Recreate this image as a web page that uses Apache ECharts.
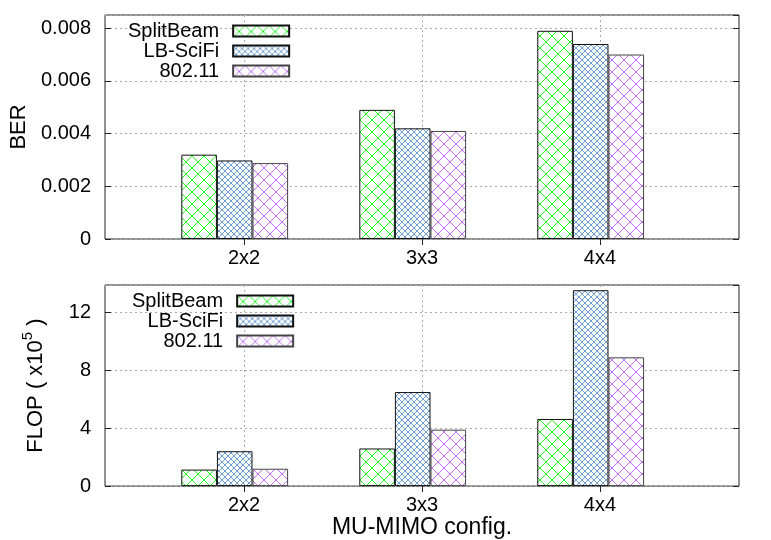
<!DOCTYPE html>
<html>
<head>
<meta charset="UTF-8">
<title>BER / FLOP vs MU-MIMO config</title>
<script src="https://cdn.jsdelivr.net/npm/echarts@6/dist/echarts.min.js"></script>
<style>
  html, body { margin: 0; padding: 0; background: #fff; }
  #chart { width: 771px; height: 540px; }
</style>
</head>
<body>
<div id="chart"></div>
<script>
// data
var configs = ['2x2', '3x3', '4x4'];
var seriesNames = ['SplitBeam', 'LB-SciFi', '802.11'];
var berSplitBeam = [0.0032, 0.0049, 0.0079];
var berLBSciFi = [0.00298, 0.0042, 0.0074];
var ber80211 = [0.00288, 0.0041, 0.0070];
var flopSplitBeam = [1.14, 2.6, 4.64];
var flopLBSciFi = [2.41, 6.5, 13.54];
var flop80211 = [1.2, 3.9, 8.9];

var font = 'Liberation Sans, Arial, sans-serif';

// crosshatch fill like gnuplot patterns
function hatch(color, size) {
  var c = document.createElement('canvas');
  c.width = size; c.height = size;
  var ctx = c.getContext('2d');
  ctx.fillStyle = '#fff';
  ctx.fillRect(0, 0, size, size);
  ctx.strokeStyle = color;
  ctx.lineWidth = 1;
  ctx.beginPath();
  ctx.moveTo(0, 0); ctx.lineTo(size, size);
  ctx.moveTo(size, 0); ctx.lineTo(0, size);
  ctx.stroke();
  return c;
}
var fills = [hatch('#22ee22', 12), hatch('#6f9fd2', 6), hatch('#c070ee', 12)];
var borders = ['#111', '#111', '#444'];

function bars(name, values, k, idx) {
  return {
    type: 'bar', name: name, xAxisIndex: idx, yAxisIndex: idx,
    barWidth: 35.6, barGap: '0%',
    data: values.map(function (v, i) { return [i + 1, v]; }),
    itemStyle: { color: { image: fills[k], repeat: 'repeat' }, borderColor: borders[k], borderWidth: 1 }
  };
}
// empty slot so the bar group sits left of the tick like in gnuplot
function spacer(idx) {
  return {
    type: 'bar', xAxisIndex: idx, yAxisIndex: idx, barWidth: 18.6, barGap: '0%', silent: true,
    data: configs.map(function (c, i) { return [i + 1, 0]; }),
    itemStyle: { opacity: 0 }
  };
}

var dotted = { show: true, lineStyle: { color: '#aaa', type: [2, 3], width: 1 } };

function xAxis(grid, bottom, name) {
  return {
    type: 'value', gridIndex: grid, position: bottom ? 'bottom' : 'top',
    min: 0.219, max: 3.781,
    name: name || '', nameLocation: 'middle', nameGap: 27,
    nameTextStyle: { fontFamily: font, fontSize: 23, color: '#000' },
    axisLine: { show: false },
    axisTick: { show: true, inside: true, length: 6, customValues: [1, 2, 3], lineStyle: { color: '#222' } },
    axisLabel: {
      show: bottom, customValues: [1, 2, 3], margin: 9,
      fontFamily: font, fontSize: 20, color: '#000',
      formatter: function (v) { return configs[Math.round(v) - 1] || ''; }
    },
    splitLine: bottom ? dotted : { show: false }
  };
}

function yAxis(grid, left, max, interval, name, gap, rich) {
  return {
    type: 'value', gridIndex: grid, position: left ? 'left' : 'right',
    min: 0, max: max, interval: interval,
    name: left ? name : '', nameLocation: 'middle', nameGap: gap,
    nameTextStyle: { fontFamily: font, fontSize: 22, color: '#000', rich: rich },
    axisLine: { show: false },
    axisTick: { show: true, inside: true, length: 6, lineStyle: { color: '#222' } },
    axisLabel: { show: left, margin: 14, fontFamily: font, fontSize: 20, color: '#000', showMaxLabel: false },
    splitLine: left ? dotted : { show: false }
  };
}

function legend(left, top) {
  return {
    data: seriesNames, orient: 'vertical', align: 'right', left: left, top: top,
    padding: 0, itemGap: 0, itemWidth: 56, itemHeight: 11, icon: 'rect',
    selectedMode: false,
    textStyle: { fontFamily: font, fontSize: 20, color: '#000', lineHeight: 19, padding: [0, 9, 0, 0] }
  };
}

var flopRich = {
  n: { fontFamily: font, fontSize: 22, verticalAlign: 'bottom' },
  s: { fontFamily: font, fontSize: 15, verticalAlign: 'top', padding: [0, 0, 12, 0] }
};

var option = {
  animation: false,
  backgroundColor: '#fff',
  grid: [
    { left: 105, top: 15, width: 634, height: 224, show: true, borderColor: '#222', borderWidth: 1, containLabel: false },
    { left: 105, top: 285, width: 634, height: 207, show: true, borderColor: '#222', borderWidth: 1, containLabel: false }
  ],
  legend: [legend(128, 21), legend(132, 291)],
  xAxis: [xAxis(0, true), xAxis(1, true, 'MU-MIMO config.'), xAxis(0, false), xAxis(1, false)],
  yAxis: [
    yAxis(0, true, 0.0085, 0.002, 'BER', 73),
    yAxis(1, true, 13.9, 4, '{n|FLOP ( x10}{s|5}{n| )}', 58, flopRich),
    yAxis(0, false, 0.0085, 0.002),
    yAxis(1, false, 13.9, 4)
  ],
  series: [
    bars(seriesNames[0], berSplitBeam, 0, 0),
    bars(seriesNames[1], berLBSciFi, 1, 0),
    bars(seriesNames[2], ber80211, 2, 0),
    spacer(0),
    bars(seriesNames[0], flopSplitBeam, 0, 1),
    bars(seriesNames[1], flopLBSciFi, 1, 1),
    bars(seriesNames[2], flop80211, 2, 1),
    spacer(1),
    // mirror axes need a series to be laid out
    { type: 'bar', xAxisIndex: 2, yAxisIndex: 2, data: [], silent: true },
    { type: 'bar', xAxisIndex: 3, yAxisIndex: 3, data: [], silent: true }
  ]
};

var myChart = echarts.init(document.getElementById('chart'), null, { renderer: 'canvas' });
myChart.setOption(option);
</script>
</body>
</html>
